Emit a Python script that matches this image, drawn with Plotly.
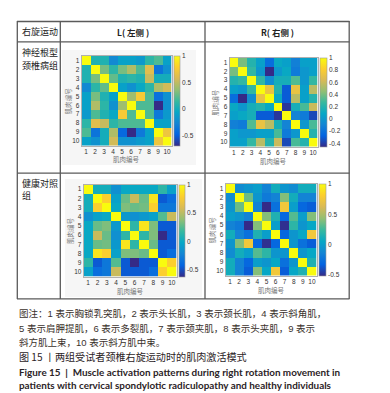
import plotly.graph_objects as go

W, H = 390, 393

muscles = list(range(1, 11))
tick_labels = [str(i) for i in muscles]

# Patients, left side (row 1 = top row of the picture)
pat_left = [
    [1.00, 0.05, 0.05, -0.25, -0.10, -0.10, -0.15, 0.10, 0.20, -0.10],
    [0.05, 1.00, 0.30, 0.10, 0.30, 0.45, 0.20, 0.62, -0.38, -0.20],
    [0.05, 0.30, 1.00, 0.25, 0.05, 0.10, 0.05, 0.52, 0.00, 0.00],
    [-0.25, 0.10, 0.25, 1.00, -0.10, -0.20, -0.05, 0.10, 0.45, 0.55],
    [-0.10, 0.30, 0.05, -0.10, 1.00, 0.40, 0.75, 0.20, -0.40, -0.20],
    [-0.10, 0.45, 0.10, -0.20, 0.40, 1.00, 0.20, 0.20, -0.70, -0.20],
    [-0.15, 0.20, 0.05, -0.05, 0.75, 0.20, 1.00, 0.20, -0.35, -0.15],
    [0.10, 0.62, 0.52, 0.10, 0.20, 0.20, 0.20, 1.00, -0.10, -0.10],
    [0.20, -0.38, 0.00, 0.45, -0.45, -0.70, -0.35, -0.10, 1.00, 0.70],
    [-0.10, -0.20, 0.00, 0.55, -0.20, -0.20, -0.15, -0.10, 0.70, 1.00],
]

# Patients, right side
pat_right = [
    [1.00, 0.40, 0.20, 0.05, -0.22, 0.10, 0.05, -0.12, 0.05, 0.05],
    [0.40, 1.00, 0.25, 0.00, -0.46, 0.00, 0.10, -0.15, 0.00, 0.05],
    [0.20, 0.25, 1.00, 0.25, -0.05, 0.15, 0.15, 0.32, 0.00, 0.25],
    [0.05, 0.00, 0.25, 1.00, 0.72, 0.20, -0.30, 0.72, 0.05, 0.55],
    [-0.22, -0.46, -0.05, 0.72, 1.00, 0.10, -0.30, 0.55, 0.05, 0.20],
    [0.10, 0.00, 0.15, 0.20, 0.10, 1.00, -0.42, 0.15, 0.30, 0.60],
    [0.05, 0.10, 0.15, -0.30, -0.30, -0.42, 1.00, -0.10, -0.15, -0.36],
    [-0.12, -0.15, 0.32, 0.72, 0.55, 0.15, -0.10, 1.00, 0.00, 0.30],
    [0.05, 0.00, 0.00, 0.05, 0.05, 0.30, -0.15, 0.00, 1.00, 0.20],
    [0.05, 0.05, 0.25, 0.55, 0.20, 0.60, -0.36, 0.30, 0.20, 1.00],
]

# Healthy, left side
hc_left = [
    [1.00, 0.05, 0.05, -0.15, 0.00, 0.00, 0.00, 0.00, 0.15, -0.05],
    [0.05, 1.00, 0.80, -0.05, 0.30, 0.55, 0.30, 0.90, -0.45, -0.35],
    [0.05, 0.80, 1.00, 0.00, 0.35, 0.30, 0.32, 0.80, -0.30, -0.30],
    [-0.15, -0.05, 0.00, 1.00, -0.10, -0.15, -0.10, -0.05, 0.25, 0.55],
    [0.00, 0.30, 0.35, -0.10, 1.00, 0.15, 0.90, 0.35, -0.45, -0.45],
    [0.00, 0.55, 0.30, -0.15, 0.15, 1.00, 0.15, 0.35, -0.62, -0.45],
    [0.00, 0.30, 0.32, -0.10, 0.90, 0.15, 1.00, 0.30, -0.45, -0.45],
    [0.00, 0.90, 0.80, -0.05, 0.35, 0.35, 0.30, 1.00, -0.45, -0.35],
    [0.15, -0.45, -0.30, 0.25, -0.45, -0.62, -0.45, -0.45, 1.00, 0.80],
    [-0.05, -0.35, -0.30, 0.55, -0.45, -0.45, -0.45, -0.35, 0.80, 1.00],
]

# Healthy, right side
hc_right = [
    [1.00, -0.10, -0.05, 0.00, -0.15, 0.10, -0.05, -0.10, 0.10, 0.10],
    [-0.10, 1.00, 0.35, -0.05, -0.20, -0.15, 0.40, 0.10, -0.15, -0.15],
    [-0.05, 0.35, 1.00, -0.15, -0.52, -0.25, 0.75, 0.00, -0.30, -0.35],
    [0.00, -0.05, -0.15, 1.00, 0.40, 0.15, -0.30, 0.30, 0.00, 0.40],
    [-0.15, -0.20, -0.52, 0.40, 1.00, 0.00, -0.50, 0.20, -0.05, 0.05],
    [0.10, -0.15, -0.25, 0.15, 0.00, 1.00, -0.30, -0.05, 0.05, 0.75],
    [-0.05, 0.40, 0.75, -0.30, -0.50, -0.30, 1.00, -0.05, -0.25, -0.35],
    [-0.10, 0.10, 0.00, 0.30, 0.20, -0.05, -0.05, 1.00, -0.05, 0.05],
    [0.10, -0.15, -0.30, 0.00, -0.05, 0.05, -0.25, -0.05, 1.00, 0.15],
    [0.10, -0.15, -0.35, 0.40, 0.05, 0.75, -0.35, 0.05, 0.15, 1.00],
]

cb_ticks_a = [-0.5, 0, 0.5, 1]
cb_ticks_b = [-0.4, -0.2, 0, 0.2, 0.4, 0.6, 0.8, 1]

parula = [[0.0, '#352a87'], [0.125, '#0363e1'], [0.25, '#1485d4'],
          [0.375, '#06a7c6'], [0.5, '#38b99e'], [0.625, '#92bf73'],
          [0.75, '#d9ba56'], [0.875, '#fcce2e'], [1.0, '#f9fb0e']]


def px(x):
    return x / W


def py(y):
    return 1 - y / H


CJK = "Noto Sans CJK SC"
MIX = "Liberation Sans, Noto Sans CJK SC"
fig = go.Figure()

panels = [
    # data, grid (x0,x1,y0,y1) in px, colorbar (x0,x1), cb ticks
    (pat_left, (73.5, 163.5, 48, 137.5), (165.5, 171.5), cb_ticks_a),
    (pat_right, (221.5, 309.5, 50, 138.5), (312, 318.5), cb_ticks_b),
    (hc_left, (75.5, 168.5, 176.5, 268.5), (170.5, 176.5), cb_ticks_a),
    (hc_right, (217.5, 308.5, 176, 267.5), (311, 317.5), cb_ticks_a),
]

shapes = []
annotations = []

# light figure backgrounds behind left images
for (x0, y0, x1, y1) in [(54, 42, 188, 157), (57, 171, 194, 289)]:
    shapes.append(dict(type="rect", xref="paper", yref="paper",
                       x0=px(x0), x1=px(x1), y0=py(y1), y1=py(y0),
                       fillcolor="#f6f6f6", line=dict(width=0), layer="below"))

# rows are stacked bottom-up on an ascending axis; labels read 1 at top
row_pos = muscles
row_labels = tick_labels[::-1]

for i, (data, (gx0, gx1, gy0, gy1), (cx0, cx1), cbt) in enumerate(panels):
    n = i + 1
    xa = "x" if n == 1 else f"x{n}"
    ya = "y" if n == 1 else f"y{n}"
    fig.add_trace(go.Heatmap(
        z=data[::-1], x=muscles, y=row_pos, xaxis=xa, yaxis=ya,
        colorscale=parula,
        colorbar=dict(
            x=px(cx0), xanchor="left", xref="paper",
            y=py(gy0), yanchor="top", yref="paper",
            len=(gy1 - gy0), lenmode="pixels",
            thickness=(cx1 - cx0), thicknessmode="pixels",
            xpad=0, ypad=0, outlinewidth=0.6, outlinecolor="#9a9a9a",
            tickvals=cbt, ticktext=[("%g" % v) for v in cbt],
            ticks="", ticklen=0,
            tickfont=dict(family="Liberation Sans", size=6.5, color="#333333"),
        ),
        hoverinfo="skip",
    ))
    axkey_x = "xaxis" if n == 1 else f"xaxis{n}"
    axkey_y = "yaxis" if n == 1 else f"yaxis{n}"
    fig.layout[axkey_x] = dict(
        domain=[px(gx0), px(gx1)], anchor=ya, range=[0.5, 10.5],
        tickvals=muscles, ticktext=tick_labels, ticks="", showgrid=False,
        zeroline=False, showline=True, linecolor="#b0b0b0", linewidth=0.6,
        mirror=True, tickfont=dict(family="Liberation Sans", size=6.5, color="#333333"),
        fixedrange=True,
    )
    fig.layout[axkey_y] = dict(
        domain=[py(gy1), py(gy0)], anchor=xa, range=[0.5, 10.5],
        tickvals=row_pos, ticktext=row_labels, ticks="", showgrid=False,
        zeroline=False, showline=True, linecolor="#b0b0b0", linewidth=0.6,
        mirror=True, tickfont=dict(family="Liberation Sans", size=6.5, color="#333333"),
        fixedrange=True,
    )
    # axis titles
    annotations.append(dict(text="肌肉编号", x=px((gx0 + gx1) / 2), y=py(gy1 + 14),
                            xref="paper", yref="paper", showarrow=False,
                            font=dict(family=CJK, size=6.5, color="#777777"),
                            xanchor="center", yanchor="middle"))
    annotations.append(dict(text="肌肉编号", x=px(gx0 - 14), y=py((gy0 + gy1) / 2),
                            xref="paper", yref="paper", showarrow=False, textangle=-90,
                            font=dict(family=CJK, size=6.5, color="#777777"),
                            xanchor="center", yanchor="middle"))

# table lines
line_col = "#5a5a5a"
def hline(y, x0=9, x1=341.5):
    shapes.append(dict(type="line", xref="paper", yref="paper", x0=px(x0), x1=px(x1),
                       y0=py(y), y1=py(y), line=dict(color=line_col, width=1.3)))
def vline(x, y0=13, y1=291):
    shapes.append(dict(type="line", xref="paper", yref="paper", x0=px(x), x1=px(x),
                       y0=py(y0), y1=py(y1), line=dict(color=line_col, width=1.3)))

for y in (13.5, 33.8, 165.2, 290.8):
    hline(y)
for x in (9.3, 52.3, 197.0, 341.2):
    vline(x)

def txt(s, x, y, size, color="#222222", family=CJK, xanchor="left"):
    annotations.append(dict(text=s, x=px(x), y=py(y), xref="paper", yref="paper",
                            showarrow=False, xanchor=xanchor, yanchor="middle",
                            font=dict(family=family, size=size, color=color)))

# table header & row labels
txt("右旋运动", 11.5, 24, 9)
txt("<b>L( 左侧 )</b>", 125, 24, 8.5, xanchor="center")
txt("<b>R( 右侧 )</b>", 269, 24, 8.5, xanchor="center")
txt("神经根型", 11.5, 44, 9)
txt("颈椎病组", 11.5, 57.5, 9)
txt("健康对照", 11.5, 175, 9)
txt("组", 11.5, 187.5, 9)

# captions
cap_col = "#3b322c"
txt("图注：1 表示胸锁乳突肌，2 表示头长肌，3 表示颈长肌，4 表示斜角肌，", 9, 305.5, 9.5, cap_col, MIX)
txt("5 表示肩胛提肌，6 表示多裂肌，7 表示颈夹肌，8 表示头夹肌，9 表示", 9, 320, 9.5, cap_col, MIX)
txt("斜方肌上束，10 表示斜方肌中束。", 9, 334.3, 9.5, cap_col, MIX)
txt("图 15 丨两组受试者颈椎右旋运动时的肌肉激活模式", 9, 348.5, 10.1, "#2b2326")
txt("<b>Figure 15  |  Muscle activation patterns during right rotation movement in</b>",
    9, 363.7, 9.9, "#2b2326", family="Lato")
txt("<b>patients with cervical spondylotic radiculopathy and healthy individuals</b>",
    9, 377.2, 9.9, "#2b2326", family="Lato")

fig.update_layout(
    width=W, height=H, autosize=False,
    margin=dict(l=0, r=0, t=0, b=0, pad=0),
    paper_bgcolor="white", plot_bgcolor="white",
    shapes=shapes, annotations=annotations, showlegend=False,
)

fig.write_html("out.html", config={"displayModeBar": False})
